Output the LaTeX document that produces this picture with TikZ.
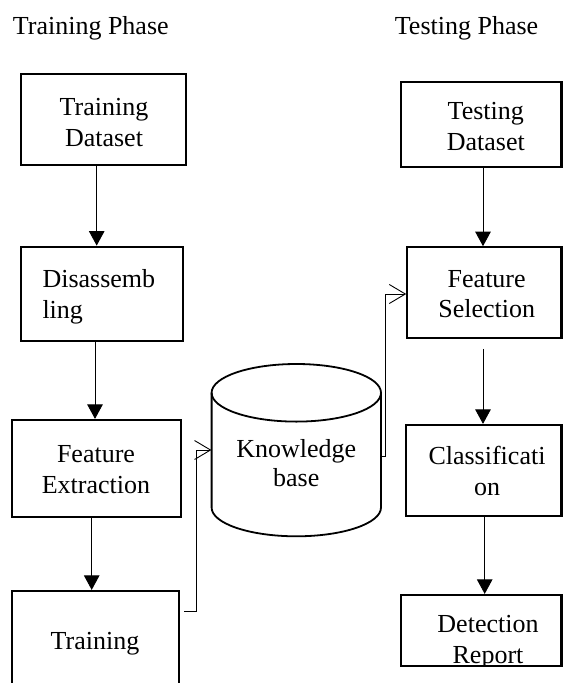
\documentclass[tikz,border=0pt]{standalone}
\usepackage{fontspec}
\setmainfont{Liberation Serif}
\usetikzlibrary{arrows.meta}
\begin{document}
\begin{tikzpicture}[x=1pt,y=1pt,
  box/.style={draw, line width=2.2pt, rectangle, inner sep=0pt},
  txt/.style={anchor=base, inner sep=0pt, font=\fontsize{26}{30}\selectfont},
  title/.style={anchor=base west, inner sep=0pt, font=\fontsize{26}{30}\selectfont},
  flow/.style={line width=0.9pt, -{Triangle[length=14.5pt,width=15.5pt]}},
  link/.style={line width=0.9pt, -{Straight Barb[length=16pt,width=19pt,line width=0.9pt]}},
  cyl/.style={line width=1.8pt}]
\useasboundingbox (0,0) rectangle (563,-683);
\clip (0,0) rectangle (563,-683);

% phase headings
\node[title] (ph1) at (12.7,-34.3) {Training Phase};
\node[title] (ph2) at (394.7,-34.3) {Testing Phase};

% training column
\node[box, minimum width=165.3, minimum height=90.7] (td) at (103.35,-119.35) {};
\node[box, minimum width=162.3, minimum height=94] (dis) at (101.85,-293.7) {};
\node[box, minimum width=168.7, minimum height=96.7] (fe) at (96.65,-468.35) {};
\node[box, minimum width=166.7, minimum height=129] (tr) at (95.65,-655.5) {};

\node[txt] (tdA) at (104,-115.3) {Training};
\node[txt] (tdB) at (104,-146) {Dataset};
\node[txt, anchor=base west] (disA) at (42.3,-287.7) {Disassemb};
\node[txt, anchor=base west] (disB) at (42.3,-318.3) {ling};
\node[txt] (feA) at (96,-462.7) {Feature};
\node[txt] (feB) at (96,-493.3) {Extraction};
\node[txt] (trA) at (95,-649.3) {Training};

% testing column
\node[box, minimum width=160.8, minimum height=85] (ted) at (481.1,-124.8) {};
\node[box, minimum width=154.2, minimum height=90.4] (fs) at (484.4,-292.5) {};
\node[box, minimum width=155.8, minimum height=91] (cl) at (483.6,-470.5) {};
\node[box, minimum width=160.8, minimum height=71] (dr) at (481.1,-630.5) {};

\node[txt] (tedA) at (485.8,-119.5) {Testing};
\node[txt] (tedB) at (485.8,-150) {Dataset};
\node[txt] (fsA) at (486.7,-287) {Feature};
\node[txt] (fsB) at (486.7,-317.5) {Selection};
\node[txt] (clA) at (487,-464.4) {Classificati};
\node[txt] (clB) at (487,-495) {on};
\node[txt] (drA) at (488,-632.7) {Detection};
\begin{scope}
  \clip (400.7,-595) rectangle (561.5,-664.9);
  \node[txt] (drB) at (488,-663.2) {Report};
\end{scope}

% knowledge base cylinder
\draw[cyl] (211.6,-392.8) -- (211.6,-507.5)
  arc[start angle=180, end angle=360, x radius=84.7, y radius=28.8] -- (381,-392.8);
\draw[cyl] (296.3,-392.8) ellipse[x radius=84.7, y radius=28.8];
\node[inner sep=0pt, minimum width=169.4, minimum height=1] (kb) at (296.3,-450) {};
\node[txt] (kbA) at (296.3,-457.3) {Knowledge};
\node[txt] (kbB) at (296.3,-486.5) {base};

% flow arrows
\draw[flow] (td.south -| 96.7,0) -- (dis.north -| 96.7,0);
\draw[flow] (dis.south -| 95,0) -- (fe.north -| 95,0);
\draw[flow] (fe.south -| 91.7,0) -- (tr.north -| 91.7,0);
\draw[flow] (ted.south -| 483,0) -- (fs.north -| 483,0);
\draw[flow, shorten <=10pt] (fs.south -| 483,0) -- (cl.north -| 483,0);
\draw[flow] (cl.south -| 484.7,0) -- (dr.north -| 484.7,0);

% links through the knowledge base
\coordinate (j1) at (196.7,-611);
\draw[link] ([xshift=4.3pt]tr.east |- j1) -- (j1) |- (kb.west);
\draw[link] (kb.east |- 0,-456.7) -- ++(4.7,0) |- (fs.west |- 0,-294);
\end{tikzpicture}
\end{document}
